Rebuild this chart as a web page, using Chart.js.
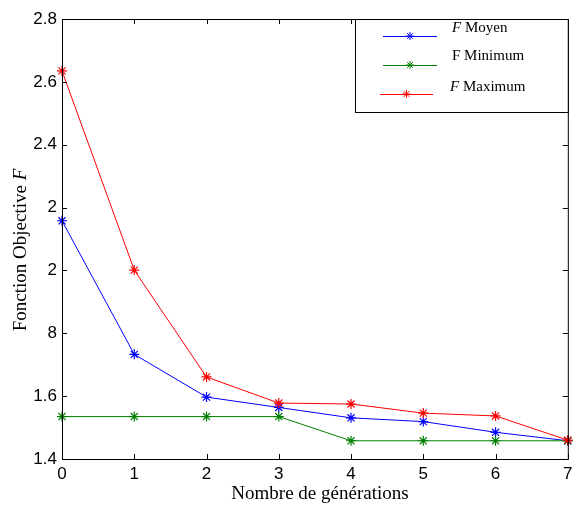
<!DOCTYPE html>
<html>
<head>
<meta charset="utf-8">
<style>
  html, body { margin: 0; padding: 0; background: #fff; }
  #wrap { width: 574px; height: 506px; }
</style>
<script src="https://cdn.jsdelivr.net/npm/chart.js@4/dist/chart.umd.min.js"></script>
</head>
<body>
<div id="wrap"><canvas id="grafico" width="574" height="506"></canvas></div>
<script>
var generations = [0, 1, 2, 3, 4, 5, 6, 7];
var fMoyen = [2.158, 1.733, 1.597, 1.564, 1.531, 1.519, 1.485, 1.458];
var fMinimum = [1.535, 1.535, 1.535, 1.535, 1.458, 1.458, 1.458, 1.458];
var fMaximum = [2.635, 2.001, 1.661, 1.578, 1.575, 1.546, 1.537, 1.460];
var yTickLabels = ["1.4", "1.6", "8", "2", "2", "2.4", "2.6", "2.8"];
var xTickLabels = ["0", "1", "2", "3", "4", "5", "6", "7"];

var serif = "'Liberation Serif', 'Times New Roman', serif";
var sans = "'Liberation Sans', Arial, sans-serif";

function pontos(valores) {
    return generations.map(function (g, i) { return { x: g, y: valores[i] }; });
}

function serie(label, valores, cor, ordem) {
    return {
        label: label,
        data: pontos(valores),
        borderColor: cor,
        backgroundColor: cor,
        borderWidth: 1,
        pointStyle: 'star',
        pointRadius: 5,
        pointBorderWidth: 1.2,
        pointBorderColor: cor,
        tension: 0,
        order: ordem,
        clip: false
    };
}

// moldura, marcas internas, titulos e legenda desenhados a mao
var molduraPlugin = {
    id: 'moldura',
    afterDraw: function (chart) {
        var ctx = chart.ctx;
        var a = chart.chartArea;
        var sx = chart.scales.x, sy = chart.scales.y;
        ctx.save();
        ctx.strokeStyle = '#000';
        ctx.lineWidth = 1;
        ctx.strokeRect(a.left + 0.5, a.top + 0.5, a.right - a.left, a.bottom - a.top);

        var tl = 5;
        ctx.beginPath();
        generations.forEach(function (g) {
            var px = Math.round(sx.getPixelForValue(g)) + 0.5;
            ctx.moveTo(px, a.bottom); ctx.lineTo(px, a.bottom - tl);
            ctx.moveTo(px, a.top); ctx.lineTo(px, a.top + tl);
        });
        sy.ticks.forEach(function (t) {
            var py = Math.round(sy.getPixelForValue(t.value)) + 0.5;
            ctx.moveTo(a.left, py); ctx.lineTo(a.left + tl, py);
            ctx.moveTo(a.right, py); ctx.lineTo(a.right - tl, py);
        });
        ctx.stroke();

        // titulo do eixo x
        ctx.fillStyle = '#000';
        ctx.textAlign = 'center';
        ctx.textBaseline = 'middle';
        ctx.font = '19px ' + serif;
        ctx.fillText('Nombre de générations', 320, 494);

        // titulo do eixo y com F em italico
        ctx.save();
        ctx.translate(21, 250);
        ctx.rotate(-Math.PI / 2);
        var t1 = 'Fonction Objective ';
        ctx.font = '19px ' + serif;
        var w1 = ctx.measureText(t1).width;
        ctx.font = 'italic 19px ' + serif;
        var w2 = ctx.measureText('F').width;
        var x0 = -(w1 + w2) / 2;
        ctx.textAlign = 'left';
        ctx.font = '19px ' + serif;
        ctx.fillText(t1, x0, 0);
        ctx.font = 'italic 19px ' + serif;
        ctx.fillText('F', x0 + w1, 0);
        ctx.restore();

        // legenda
        var lx = 355, ly = a.top, lw = a.right - 355, lh = 93;
        ctx.fillStyle = '#fff';
        ctx.fillRect(lx, ly, lw, lh);
        ctx.strokeRect(lx + 0.5, ly + 0.5, lw, lh);

        var itens = [
            { ds: 0, y: 36, x1: 383, x2: 437, tx: 452, ty: 28, rest: ' Moyen', italico: true },
            { ds: 1, y: 65, x1: 383, x2: 437, tx: 452, ty: 56, rest: ' Minimum', italico: false },
            { ds: 2, y: 94, x1: 380, x2: 433, tx: 450, ty: 87, rest: ' Maximum', italico: true }
        ];
        itens.forEach(function (it) {
            var ds = chart.data.datasets[it.ds];
            ctx.strokeStyle = ds.borderColor;
            ctx.beginPath();
            ctx.moveTo(it.x1, it.y + 0.5);
            ctx.lineTo(it.x2, it.y + 0.5);
            ctx.stroke();
            Chart.helpers.drawPoint(ctx, {
                pointStyle: 'star', radius: 4, borderWidth: 1.2, rotation: 0
            }, (it.x1 + it.x2) / 2, it.y);
            ctx.fillStyle = '#000';
            ctx.textAlign = 'left';
            ctx.textBaseline = 'middle';
            ctx.font = (it.italico ? 'italic ' : '') + '15px ' + serif;
            ctx.fillText('F', it.tx, it.ty);
            var wf = ctx.measureText('F').width;
            ctx.font = '15px ' + serif;
            ctx.fillText(it.rest, it.tx + wf, it.ty);
        });
        ctx.restore();
    }
};

var ctx = document.getElementById('grafico').getContext('2d');
new Chart(ctx, {
    type: 'line',
    data: {
        datasets: [
            serie('F Moyen', fMoyen, '#0000ff', 3),
            serie('F Minimum', fMinimum, '#008000', 2),
            serie('F Maximum', fMaximum, '#ff0000', 1)
        ]
    },
    options: {
        responsive: false,
        animation: false,
        layout: { padding: { top: 19, right: 0, left: 0, bottom: 0 } },
        plugins: {
            legend: { display: false },
            tooltip: { enabled: false }
        },
        scales: {
            x: {
                type: 'linear',
                min: 0,
                max: 7,
                grid: { display: false, drawTicks: false },
                border: { display: false },
                ticks: {
                    stepSize: 1,
                    padding: 5,
                    color: '#000',
                    font: { family: sans, size: 17 },
                    callback: function (v, i) { return xTickLabels[i]; }
                },
                afterFit: function (scale) {
                    scale.height = 47;
                    scale.paddingRight = 5;
                }
            },
            y: {
                min: 1.4,
                max: 2.8,
                grid: { display: false, drawTicks: false },
                border: { display: false },
                ticks: {
                    stepSize: 0.2,
                    padding: 5,
                    color: '#000',
                    font: { family: sans, size: 17 },
                    callback: function (v, i) { return yTickLabels[i]; }
                },
                afterFit: function (scale) { scale.width = 62; }
            }
        }
    },
    plugins: [molduraPlugin]
});
</script>
</body>
</html>
